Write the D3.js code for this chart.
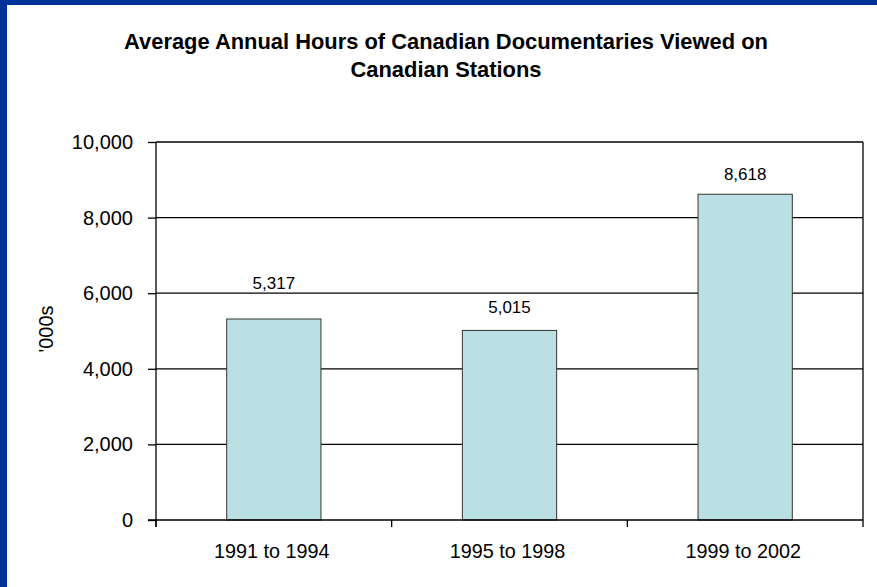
<!DOCTYPE html>
<html>
<head>
<meta charset="utf-8">
<script src="https://cdn.jsdelivr.net/npm/d3@7"></script>
<style>
  html, body { margin: 0; padding: 0; background: #fff; }
  svg text { font-family: "Liberation Sans", Arial, sans-serif; fill: #000; }
</style>
</head>
<body>
<div id="chart"></div>
<script>
// data
var periods = ["1991 to 1994", "1995 to 1998", "1999 to 2002"];
var hours = [5317, 5015, 8618];
var yTicks = [0, 2000, 4000, 6000, 8000, 10000];

var svgWidth = 877;
var svgHeight = 587;

var margin = { top: 142, right: 14, bottom: 67, left: 156 };
var width = svgWidth - margin.left - margin.right;
var height = svgHeight - margin.top - margin.bottom;

// label lift above each bar top (as in the original)
var labelDy = [30, 17, 14];

var svg = d3.select("#chart")
  .append("svg")
  .attr("width", svgWidth)
  .attr("height", svgHeight);

// blue frame (top and left edge)
svg.append("rect").attr("x", 0).attr("y", 0).attr("width", svgWidth).attr("height", svgHeight).attr("fill", "#003399");
svg.append("rect").attr("x", 7).attr("y", 5).attr("width", svgWidth - 7).attr("height", svgHeight - 5).attr("fill", "#ffffff");

// title
var title = svg.append("text")
  .attr("text-anchor", "middle")
  .attr("font-weight", "bold")
  .attr("font-size", "21.9px");
title.append("tspan").attr("x", 446).attr("y", 49).text("Average Annual Hours of Canadian Documentaries Viewed on");
title.append("tspan").attr("x", 446).attr("y", 77).text("Canadian Stations");

var chartGroup = svg.append("g")
  .attr("transform", `translate(${margin.left}, ${margin.top})`);

var xBandScale = d3.scaleBand()
  .domain(periods)
  .range([0, width])
  .paddingInner(0.6)
  .paddingOuter(0.3);

var yLinearScale = d3.scaleLinear()
  .domain([0, 10000])
  .range([height, 0]);

// gridlines
chartGroup.selectAll(".grid")
  .data(yTicks.slice(1))
  .enter()
  .append("line")
  .attr("x1", 0)
  .attr("x2", width)
  .attr("y1", function(d) { return yLinearScale(d); })
  .attr("y2", function(d) { return yLinearScale(d); })
  .attr("stroke", "#000")
  .attr("stroke-width", 1.3);

// right border of plot
chartGroup.append("line")
  .attr("x1", width).attr("x2", width)
  .attr("y1", 0).attr("y2", height)
  .attr("stroke", "#000").attr("stroke-width", 1.3);

// bars
chartGroup.selectAll(".bar")
  .data(hours)
  .enter()
  .append("rect")
  .attr("x", function(d, i) { return xBandScale(periods[i]); })
  .attr("y", function(d) { return yLinearScale(d); })
  .attr("width", xBandScale.bandwidth())
  .attr("height", function(d) { return height - yLinearScale(d); })
  .attr("fill", "#bbe0e3")
  .attr("stroke", "#333")
  .attr("stroke-width", 1);

// value labels
chartGroup.selectAll(".val")
  .data(hours)
  .enter()
  .append("text")
  .attr("x", function(d, i) { return xBandScale(periods[i]) + xBandScale.bandwidth() / 2; })
  .attr("y", function(d, i) { return yLinearScale(d) - labelDy[i]; })
  .attr("text-anchor", "middle")
  .attr("font-size", "17px")
  .text(function(d) { return d3.format(",")(d); });

// y axis
var leftAxis = d3.axisLeft(yLinearScale)
  .tickValues(yTicks)
  .tickSize(8)
  .tickPadding(15)
  .tickFormat(d3.format(","));

var yAxisG = chartGroup.append("g").call(leftAxis);
yAxisG.select(".domain").attr("d", `M0,0V${height + 7}`).attr("stroke", "#000").attr("stroke-width", 1.3);
yAxisG.selectAll(".tick line").attr("stroke", "#000").attr("stroke-width", 1.3);
yAxisG.selectAll(".tick text").attr("font-size", "20px").attr("font-family", "Liberation Sans, Arial, sans-serif");

// x axis: ticks at category boundaries
var xAxisG = chartGroup.append("g").attr("transform", `translate(0, ${height})`);
xAxisG.append("line")
  .attr("x1", -8).attr("x2", width)
  .attr("stroke", "#000").attr("stroke-width", 1.5);
xAxisG.selectAll(".xtick")
  .data(d3.range(periods.length + 1))
  .enter()
  .append("line")
  .attr("x1", function(i) { return i * width / periods.length; })
  .attr("x2", function(i) { return i * width / periods.length; })
  .attr("y1", 0).attr("y2", 7)
  .attr("stroke", "#000").attr("stroke-width", 1.3);
xAxisG.selectAll(".xlab")
  .data(periods)
  .enter()
  .append("text")
  .attr("x", function(d) { return xBandScale(d) + xBandScale.bandwidth() / 2 - 2; })
  .attr("y", 38)
  .attr("text-anchor", "middle")
  .attr("font-size", "19.8px")
  .text(function(d) { return d; });

// y axis title
svg.append("text")
  .attr("transform", "translate(53, 329) rotate(-90)")
  .attr("text-anchor", "middle")
  .attr("font-size", "20px")
  .text("'000s");
</script>
</body>
</html>
